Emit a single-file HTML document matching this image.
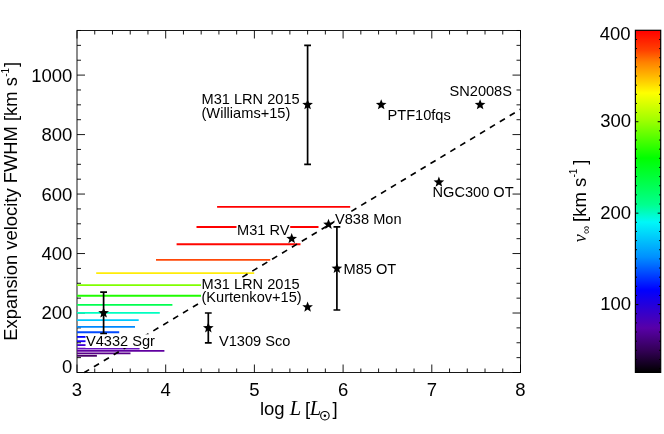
<!DOCTYPE html>
<html><head><meta charset="utf-8"><title>chart</title>
<style>
html,body{margin:0;padding:0;background:#fff;}
body{width:664px;height:434px;overflow:hidden;font-family:"Liberation Sans",sans-serif;}
svg{display:block;will-change:transform;}
text{font-family:"Liberation Sans",sans-serif;fill:#000;}
.t{font-size:18.5px;}
.l{font-size:14.6px;}
.it{font-family:"Liberation Serif",serif;font-style:italic;}
</style></head><body>
<svg width="664" height="434" viewBox="0 0 664 434">
<defs>
<linearGradient id="cb" x1="0" y1="0" x2="0" y2="1">
<stop offset="0.0000" stop-color="#ff0000"/>
<stop offset="0.0576" stop-color="#ff4000"/>
<stop offset="0.0927" stop-color="#ff8000"/>
<stop offset="0.1453" stop-color="#ffc800"/>
<stop offset="0.1833" stop-color="#ffff00"/>
<stop offset="0.2622" stop-color="#a0ff00"/>
<stop offset="0.3733" stop-color="#00ff00"/>
<stop offset="0.4668" stop-color="#00ff60"/>
<stop offset="0.5107" stop-color="#00ff90"/>
<stop offset="0.5604" stop-color="#00f8f8"/>
<stop offset="0.6627" stop-color="#0090ff"/>
<stop offset="0.7591" stop-color="#0000ff"/>
<stop offset="0.8176" stop-color="#3000d0"/>
<stop offset="0.8702" stop-color="#5800a8"/>
<stop offset="0.9345" stop-color="#340058"/>
<stop offset="1.0000" stop-color="#000000"/>
</linearGradient>
<polygon id="st" points="0.00,-5.60 1.41,-1.94 5.33,-1.73 2.28,0.74 3.29,4.53 0.00,2.40 -3.29,4.53 -2.28,0.74 -5.33,-1.73 -1.41,-1.94" fill="#000"/>
</defs>
<rect width="664" height="434" fill="#fff"/>
<g stroke="#000" stroke-width="0.9" fill="none">
<rect x="77.0" y="30.5" width="443.5" height="342.0"/>
<path d="M77.00 372.5v-8 M77.00 30.5v8"/>
<path d="M94.74 372.5v-4 M94.74 30.5v4"/>
<path d="M112.48 372.5v-4 M112.48 30.5v4"/>
<path d="M130.22 372.5v-4 M130.22 30.5v4"/>
<path d="M147.96 372.5v-4 M147.96 30.5v4"/>
<path d="M165.70 372.5v-8 M165.70 30.5v8"/>
<path d="M183.44 372.5v-4 M183.44 30.5v4"/>
<path d="M201.18 372.5v-4 M201.18 30.5v4"/>
<path d="M218.92 372.5v-4 M218.92 30.5v4"/>
<path d="M236.66 372.5v-4 M236.66 30.5v4"/>
<path d="M254.40 372.5v-8 M254.40 30.5v8"/>
<path d="M272.14 372.5v-4 M272.14 30.5v4"/>
<path d="M289.88 372.5v-4 M289.88 30.5v4"/>
<path d="M307.62 372.5v-4 M307.62 30.5v4"/>
<path d="M325.36 372.5v-4 M325.36 30.5v4"/>
<path d="M343.10 372.5v-8 M343.10 30.5v8"/>
<path d="M360.84 372.5v-4 M360.84 30.5v4"/>
<path d="M378.58 372.5v-4 M378.58 30.5v4"/>
<path d="M396.32 372.5v-4 M396.32 30.5v4"/>
<path d="M414.06 372.5v-4 M414.06 30.5v4"/>
<path d="M431.80 372.5v-8 M431.80 30.5v8"/>
<path d="M449.54 372.5v-4 M449.54 30.5v4"/>
<path d="M467.28 372.5v-4 M467.28 30.5v4"/>
<path d="M485.02 372.5v-4 M485.02 30.5v4"/>
<path d="M502.76 372.5v-4 M502.76 30.5v4"/>
<path d="M520.50 372.5v-8 M520.50 30.5v8"/>
<path d="M77.0 372.50h8 M520.5 372.50h-8"/>
<path d="M77.0 357.63h4 M520.5 357.63h-4"/>
<path d="M77.0 342.76h4 M520.5 342.76h-4"/>
<path d="M77.0 327.89h4 M520.5 327.89h-4"/>
<path d="M77.0 313.02h8 M520.5 313.02h-8"/>
<path d="M77.0 298.15h4 M520.5 298.15h-4"/>
<path d="M77.0 283.28h4 M520.5 283.28h-4"/>
<path d="M77.0 268.41h4 M520.5 268.41h-4"/>
<path d="M77.0 253.54h8 M520.5 253.54h-8"/>
<path d="M77.0 238.67h4 M520.5 238.67h-4"/>
<path d="M77.0 223.80h4 M520.5 223.80h-4"/>
<path d="M77.0 208.93h4 M520.5 208.93h-4"/>
<path d="M77.0 194.06h8 M520.5 194.06h-8"/>
<path d="M77.0 179.19h4 M520.5 179.19h-4"/>
<path d="M77.0 164.32h4 M520.5 164.32h-4"/>
<path d="M77.0 149.45h4 M520.5 149.45h-4"/>
<path d="M77.0 134.58h8 M520.5 134.58h-8"/>
<path d="M77.0 119.71h4 M520.5 119.71h-4"/>
<path d="M77.0 104.84h4 M520.5 104.84h-4"/>
<path d="M77.0 89.97h4 M520.5 89.97h-4"/>
<path d="M77.0 75.10h8 M520.5 75.10h-8"/>
<path d="M77.0 60.23h4 M520.5 60.23h-4"/>
<path d="M77.0 45.36h4 M520.5 45.36h-4"/>
<path d="M77.0 30.49h4 M520.5 30.49h-4"/>
</g>
<line x1="217.1" y1="206.8" x2="350.2" y2="206.8" stroke="#ff0000" stroke-width="1.85"/>
<line x1="196.5" y1="227.0" x2="318.5" y2="227.0" stroke="#ff0000" stroke-width="1.85"/>
<line x1="176.6" y1="244.2" x2="300.5" y2="244.2" stroke="#ff0600" stroke-width="1.85"/>
<line x1="156.0" y1="259.9" x2="270.2" y2="259.9" stroke="#ff4808" stroke-width="1.85"/>
<line x1="96.2" y1="273.1" x2="254.2" y2="273.1" stroke="#ffec08" stroke-width="1.85"/>
<line x1="77.0" y1="285.1" x2="215.0" y2="285.1" stroke="#80ff00" stroke-width="1.85"/>
<line x1="77.0" y1="295.7" x2="215.0" y2="295.7" stroke="#20fc00" stroke-width="1.85"/>
<line x1="77.0" y1="304.9" x2="172.4" y2="304.9" stroke="#00ff50" stroke-width="1.85"/>
<line x1="77.0" y1="312.9" x2="159.8" y2="312.9" stroke="#00ffc0" stroke-width="1.85"/>
<line x1="77.0" y1="320.1" x2="138.7" y2="320.1" stroke="#00c8ff" stroke-width="1.85"/>
<line x1="77.0" y1="326.9" x2="135.0" y2="326.9" stroke="#0088ff" stroke-width="1.85"/>
<line x1="77.0" y1="332.2" x2="119.2" y2="332.2" stroke="#0048ff" stroke-width="1.85"/>
<line x1="77.0" y1="336.9" x2="100.0" y2="336.9" stroke="#0000ff" stroke-width="1.85"/>
<line x1="77.0" y1="341.2" x2="100.0" y2="341.2" stroke="#1800f8" stroke-width="1.85"/>
<line x1="77.0" y1="345.1" x2="100.0" y2="345.1" stroke="#4000d0" stroke-width="1.85"/>
<line x1="77.0" y1="348.6" x2="139.6" y2="348.6" stroke="#6810c0" stroke-width="1.85"/>
<line x1="77.0" y1="350.9" x2="164.4" y2="350.9" stroke="#6000a0" stroke-width="1.85"/>
<line x1="77.0" y1="353.4" x2="130.5" y2="353.4" stroke="#580088" stroke-width="1.85"/>
<line x1="77.0" y1="355.8" x2="96.9" y2="355.8" stroke="#480068" stroke-width="1.85"/>
<path d="M84.37 372.50L89.10 369.65M93.90 366.75L99.00 363.67M103.80 360.78L108.90 357.70M113.70 354.80L118.80 351.72M123.60 348.83L128.70 345.75M133.50 342.85L138.60 339.77M143.40 336.87L148.50 333.80M153.30 330.90L158.40 327.82M163.20 324.92L168.30 321.84M173.10 318.95L178.20 315.87M183.00 312.97L188.10 309.89M192.90 307.00L198.00 303.92M202.80 301.02L207.90 297.94M212.70 295.04L217.80 291.97M222.60 289.07L227.70 285.99M232.50 283.09L237.60 280.01M242.40 277.12L247.50 274.04M252.30 271.14L257.40 268.06M262.20 265.17L267.30 262.09M272.10 259.19L277.20 256.11M282.00 253.21L287.10 250.14M291.90 247.24L297.00 244.16M301.80 241.26L306.90 238.19M311.70 235.29L316.80 232.21M321.60 229.31L326.70 226.23M331.50 223.34L336.60 220.26M341.40 217.36L346.50 214.28M351.30 211.39L356.40 208.31M361.20 205.41L366.30 202.33M371.10 199.43L376.20 196.36M381.00 193.46L386.10 190.38M390.90 187.48L396.00 184.40M400.80 181.51L405.90 178.43M410.70 175.53L415.80 172.45M420.60 169.56L425.70 166.48M430.50 163.58L435.60 160.50M440.40 157.60L445.50 154.53M450.30 151.63L455.40 148.55M460.20 145.65L465.30 142.57M470.10 139.68L475.20 136.60M480.00 133.70L485.10 130.62M489.90 127.73L495.00 124.65M499.80 121.75L504.90 118.67M509.70 115.78L514.80 112.70M519.60 109.80L520.50 109.26" stroke="#000" stroke-width="1.65" fill="none"/>
<text class="t" x="77.0" y="396" text-anchor="middle">3</text>
<text class="t" x="165.7" y="396" text-anchor="middle">4</text>
<text class="t" x="254.4" y="396" text-anchor="middle">5</text>
<text class="t" x="343.1" y="396" text-anchor="middle">6</text>
<text class="t" x="431.8" y="396" text-anchor="middle">7</text>
<text class="t" x="520.5" y="396" text-anchor="middle">8</text>
<text class="t" x="72.3" y="319.4" text-anchor="end">200</text>
<text class="t" x="72.3" y="259.9" text-anchor="end">400</text>
<text class="t" x="72.3" y="200.5" text-anchor="end">600</text>
<text class="t" x="72.3" y="141.0" text-anchor="end">800</text>
<text class="t" x="72.3" y="81.5" text-anchor="end">1000</text>
<text class="t" x="72.3" y="372.8" text-anchor="end">0</text>
<g transform="translate(16.8,0) rotate(-90)">
<text x="-208.9" y="0" text-anchor="middle" font-size="18.4">Expansion velocity FWHM [km s</text>
<text x="-76.8" y="-8.1" font-size="10">-1</text>
<text x="-67.0" y="0" font-size="18.4">]</text>
</g>
<text x="259.9" y="415.3" font-size="18.5">log</text>
<text x="289.7" y="415.3" font-size="20.5" class="it">L</text>
<text x="304.9" y="415.3" font-size="18.5">[</text>
<text x="309.8" y="415.3" font-size="20.5" class="it">L</text>
<circle cx="324.9" cy="415.7" r="4.25" fill="none" stroke="#000" stroke-width="1.1"/><circle cx="324.9" cy="415.7" r="1.25" fill="#000"/>
<text x="332.5" y="415.3" font-size="18.5">]</text>
<rect x="201.0" y="93.1" width="99.0" height="13.7" fill="#fff"/>
<text class="l" x="201.5" y="104.3">M31 LRN 2015</text>
<rect x="201.0" y="106.3" width="89.0" height="13.7" fill="#fff"/>
<text class="l" x="201.5" y="117.5">(Williams+15)</text>
<rect x="236.5" y="223.6" width="53.7" height="13.7" fill="#fff"/>
<text class="l" x="237.0" y="234.8">M31 RV</text>
<rect x="201.0" y="278.0" width="99.0" height="13.7" fill="#fff"/>
<text class="l" x="201.5" y="289.2">M31 LRN 2015</text>
<rect x="201.0" y="290.8" width="100.0" height="13.7" fill="#fff"/>
<text class="l" x="201.5" y="302.0">(Kurtenkov+15)</text>
<rect x="85.5" y="334.3" width="70.0" height="13.7" fill="#fff"/>
<text class="l" x="86.0" y="345.5">V4332 Sgr</text>
<text class="l" x="219.0" y="345.5">V1309 Sco</text>
<rect x="334.5" y="212.3" width="60.0" height="13.7" fill="#fff"/>
<text class="l" x="335.0" y="223.5">V838 Mon</text>
<text class="l" x="343.5" y="273.5">M85 OT</text>
<text class="l" x="387.5" y="119.5">PTF10fqs</text>
<text class="l" x="449.5" y="95.5">SN2008S</text>
<rect x="432.0" y="185.6" width="74.0" height="13.7" fill="#fff"/>
<text class="l" x="432.5" y="196.8">NGC300 OT</text>
<path d="M307.6 164.3V45.4 M304.2 164.3h6.8 M304.2 45.4h6.8" stroke="#000" stroke-width="1.7" fill="none"/>
<use href="#st" x="307.6" y="104.8"/>
<use href="#st" x="381.2" y="104.8"/>
<use href="#st" x="480.1" y="104.8"/>
<use href="#st" x="438.9" y="182.2"/>
<use href="#st" x="328.5" y="224.4"/>
<use href="#st" x="291.7" y="238.7"/>
<path d="M336.9 310.0V226.8 M333.5 310.0h6.8 M333.5 226.8h6.8" stroke="#000" stroke-width="1.7" fill="none"/>
<use href="#st" x="336.9" y="268.4"/>
<use href="#st" x="307.6" y="307.1"/>
<path d="M103.6 333.5V292.2 M100.2 333.5h6.8 M100.2 292.2h6.8" stroke="#000" stroke-width="1.7" fill="none"/>
<use href="#st" x="103.6" y="313.0"/>
<path d="M208.3 342.8V313.0 M204.9 342.8h6.8 M204.9 313.0h6.8" stroke="#000" stroke-width="1.7" fill="none"/>
<use href="#st" x="208.3" y="327.9"/>
<rect x="635.4" y="30.3" width="25.3" height="342.1" fill="url(#cb)" stroke="#000" stroke-width="1.2"/>
<g stroke="#000" stroke-width="1">
<path d="M635.4 368.59h1.6 M660.7 368.59h-1.6"/>
<path d="M635.4 359.45h1.6 M660.7 359.45h-1.6"/>
<path d="M635.4 350.31h1.6 M660.7 350.31h-1.6"/>
<path d="M635.4 341.16h1.6 M660.7 341.16h-1.6"/>
<path d="M635.4 332.02h1.6 M660.7 332.02h-1.6"/>
<path d="M635.4 322.88h1.6 M660.7 322.88h-1.6"/>
<path d="M635.4 313.73h1.6 M660.7 313.73h-1.6"/>
<path d="M635.4 304.59h3.0 M660.7 304.59h-3.0"/>
<path d="M635.4 295.45h1.6 M660.7 295.45h-1.6"/>
<path d="M635.4 286.30h1.6 M660.7 286.30h-1.6"/>
<path d="M635.4 277.16h1.6 M660.7 277.16h-1.6"/>
<path d="M635.4 268.02h1.6 M660.7 268.02h-1.6"/>
<path d="M635.4 258.88h1.6 M660.7 258.88h-1.6"/>
<path d="M635.4 249.73h1.6 M660.7 249.73h-1.6"/>
<path d="M635.4 240.59h1.6 M660.7 240.59h-1.6"/>
<path d="M635.4 231.45h1.6 M660.7 231.45h-1.6"/>
<path d="M635.4 222.30h1.6 M660.7 222.30h-1.6"/>
<path d="M635.4 213.16h3.0 M660.7 213.16h-3.0"/>
<path d="M635.4 204.02h1.6 M660.7 204.02h-1.6"/>
<path d="M635.4 194.87h1.6 M660.7 194.87h-1.6"/>
<path d="M635.4 185.73h1.6 M660.7 185.73h-1.6"/>
<path d="M635.4 176.59h1.6 M660.7 176.59h-1.6"/>
<path d="M635.4 167.45h1.6 M660.7 167.45h-1.6"/>
<path d="M635.4 158.30h1.6 M660.7 158.30h-1.6"/>
<path d="M635.4 149.16h1.6 M660.7 149.16h-1.6"/>
<path d="M635.4 140.02h1.6 M660.7 140.02h-1.6"/>
<path d="M635.4 130.87h1.6 M660.7 130.87h-1.6"/>
<path d="M635.4 121.73h3.0 M660.7 121.73h-3.0"/>
<path d="M635.4 112.59h1.6 M660.7 112.59h-1.6"/>
<path d="M635.4 103.44h1.6 M660.7 103.44h-1.6"/>
<path d="M635.4 94.30h1.6 M660.7 94.30h-1.6"/>
<path d="M635.4 85.16h1.6 M660.7 85.16h-1.6"/>
<path d="M635.4 76.02h1.6 M660.7 76.02h-1.6"/>
<path d="M635.4 66.87h1.6 M660.7 66.87h-1.6"/>
<path d="M635.4 57.73h1.6 M660.7 57.73h-1.6"/>
<path d="M635.4 48.59h1.6 M660.7 48.59h-1.6"/>
<path d="M635.4 39.44h1.6 M660.7 39.44h-1.6"/>
</g>
<text class="t" x="631" y="310.2" text-anchor="end">100</text>
<text class="t" x="631" y="218.8" text-anchor="end">200</text>
<text class="t" x="631" y="127.3" text-anchor="end">300</text>
<text class="t" x="630.5" y="40.4" text-anchor="end">400</text>
<g transform="translate(585.7,0) rotate(-90)">
<text x="-242.3" y="0" font-size="18" class="it">v</text>
<text x="-234.0" y="4.5" font-size="11.5">∞</text>
<text x="-221.9" y="0" font-size="18.5">[km s</text>
<text x="-177.6" y="-8.8" font-size="10">-1</text>
<text x="-164.7" y="0" font-size="18.5">]</text>
</g>
</svg></body></html>
